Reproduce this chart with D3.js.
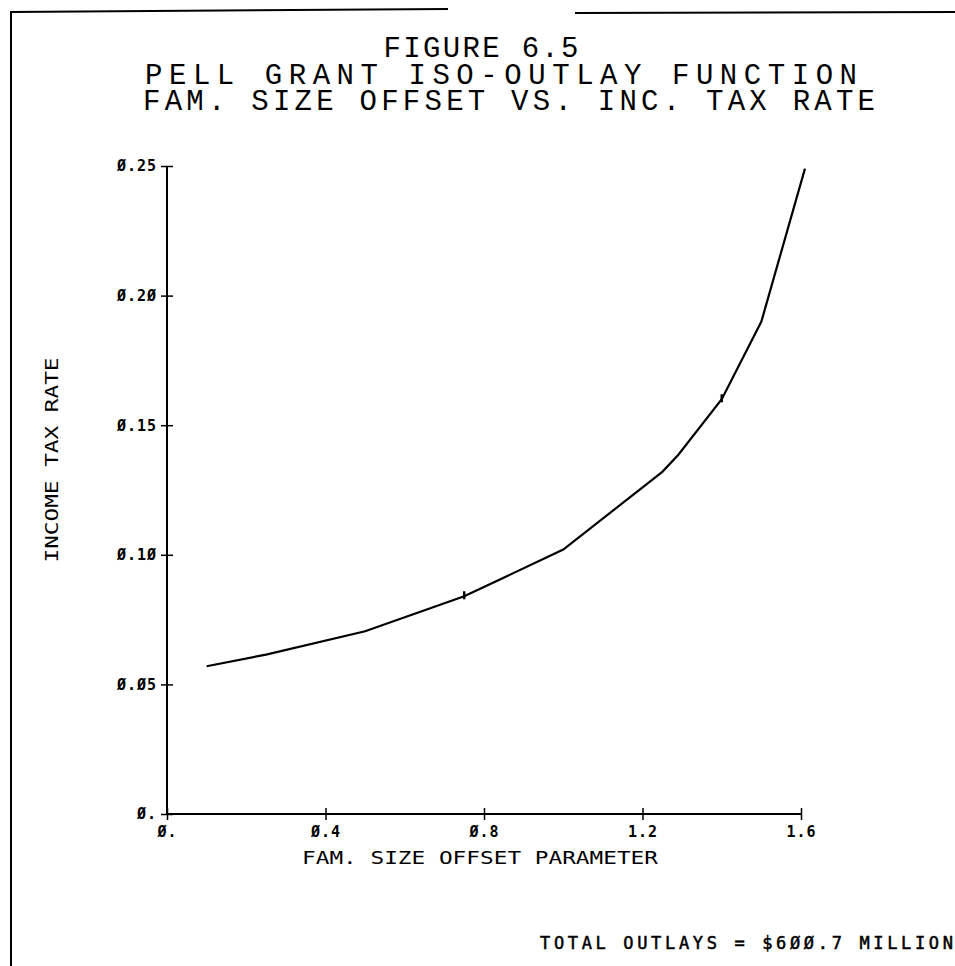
<!DOCTYPE html>
<html>
<head>
<meta charset="utf-8">
<script src="https://cdn.jsdelivr.net/npm/d3@7"></script>
<style>
  body { margin: 0; background: #fff; }
  svg { display: block; }
  .title { font-family: "Liberation Mono", monospace; font-size: 29px; font-weight: normal; }
  .tick text { font-family: "DejaVu Sans Mono", monospace; font-size: 15px; font-weight: bold; letter-spacing: 1px; }
  .lab { font-family: "DejaVu Sans Mono", monospace; font-size: 17px; }
</style>
</head>
<body>
<div id="chart"></div>
<script>
// data
var offsetParam = [0.10, 0.25, 0.50, 0.75, 1.00, 1.25, 1.29, 1.40, 1.50, 1.61];
var taxRate = [0.057, 0.0615, 0.0705, 0.084, 0.102, 0.132, 0.1385, 0.160, 0.190, 0.249];
var markedAt = [0.75, 1.40];
var xTicks = [0, 0.4, 0.8, 1.2, 1.6];
var xTickLabels = ["Ø.", "Ø.4", "Ø.8", "1.2", "1.6"];
var yTicks = [0, 0.05, 0.10, 0.15, 0.20, 0.25];
var yTickLabels = ["Ø.", "Ø.Ø5", "Ø.1Ø", "Ø.15", "Ø.2Ø", "Ø.25"];
var titleLines = ["FIGURE 6.5", "PELL GRANT ISO-OUTLAY FUNCTION", "FAM. SIZE OFFSET VS. INC. TAX RATE"];

var W = 955, H = 966;
var svg = d3.select("#chart").append("svg").attr("width", W).attr("height", H);

// scanned page frame
svg.append("path").attr("d", "M11,966 L11,12 L448,9").attr("fill", "none").attr("stroke", "#000").attr("stroke-width", 2);
svg.append("path").attr("d", "M575,13 L955,12").attr("fill", "none").attr("stroke", "#000").attr("stroke-width", 2);

// titles
var titleY = [57, 84, 110], titleX = [481, 501, 509], titleW = [195, 712, 732];
titleLines.forEach(function (t, i) {
  svg.append("text").attr("class", "title").attr("x", titleX[i]).attr("y", titleY[i])
    .attr("text-anchor", "middle").attr("textLength", titleW[i]).attr("lengthAdjust", "spacing")
    .text(t);
});

var x = d3.scaleLinear().domain([0, 1.6]).range([167, 801]);
var y = d3.scaleLinear().domain([0, 0.25]).range([814, 166]);

// x axis
var gx = svg.append("g").attr("transform", "translate(0," + y(0) + ")")
  .call(d3.axisBottom(x).tickValues(xTicks).tickFormat(function (d, i) { return xTickLabels[i]; }).tickSize(6).tickPadding(6));
gx.select(".domain").attr("stroke-width", 2).attr("d", "M" + x(0) + ",0H" + x(1.6));
gx.selectAll(".tick line").attr("y1", -6).attr("y2", 6).attr("stroke-width", 1.5);

// y axis
var gy = svg.append("g").attr("transform", "translate(" + x(0) + ",0)")
  .call(d3.axisLeft(y).tickValues(yTicks).tickFormat(function (d, i) { return yTickLabels[i]; }).tickSize(6).tickPadding(4));
gy.select(".domain").attr("stroke-width", 2).attr("d", "M0," + y(0.25) + "V" + y(0));
gy.selectAll(".tick line").attr("x1", -6).attr("x2", 6).attr("stroke-width", 1.5);

// axis titles
svg.append("text").attr("class", "lab").attr("x", 480).attr("y", 864).attr("text-anchor", "middle")
  .attr("textLength", 356).attr("lengthAdjust", "spacingAndGlyphs").text("FAM. SIZE OFFSET PARAMETER");
svg.append("text").attr("class", "lab").attr("transform", "translate(58,460) rotate(-90)").attr("text-anchor", "middle")
  .attr("textLength", 205).attr("lengthAdjust", "spacingAndGlyphs").text("INCOME TAX RATE");
svg.append("text").attr("class", "lab").attr("x", 953).attr("y", 949).attr("text-anchor", "end")
  .attr("stroke", "#000").attr("stroke-width", 0.5)
  .attr("textLength", 413).attr("lengthAdjust", "spacing").text("TOTAL OUTLAYS = $6ØØ.7 MILLION");

// curve
var pts = offsetParam.map(function (d, i) { return [d, taxRate[i]]; });
svg.append("path").datum(pts).attr("fill", "none").attr("stroke", "#000").attr("stroke-width", 2.2)
  .attr("d", d3.line().x(function (d) { return x(d[0]); }).y(function (d) { return y(d[1]); }));

// small marks on the curve
markedAt.forEach(function (m) {
  var v = taxRate[offsetParam.indexOf(m)];
  svg.append("line").attr("x1", x(m)).attr("x2", x(m)).attr("y1", y(v) - 5).attr("y2", y(v) + 3)
    .attr("stroke", "#000").attr("stroke-width", 2.5);
});
</script>
</body>
</html>
